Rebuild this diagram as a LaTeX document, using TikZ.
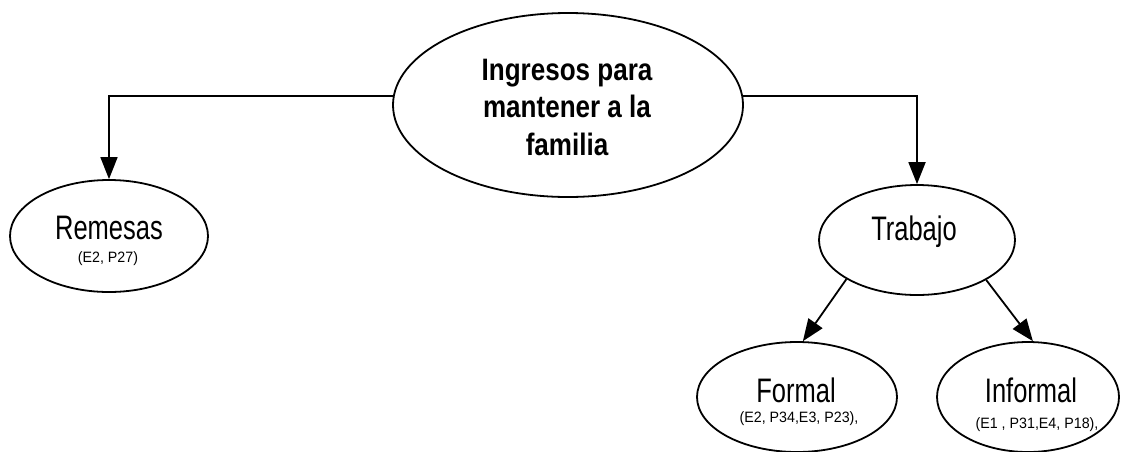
\documentclass[tikz,border=0pt]{standalone}
\usepackage{fontspec}
\newfontfamily\nar[FakeStretch=0.75]{Liberation Sans}
\newfontfamily\narb[FakeStretch=0.84]{Liberation Sans}
\newfontfamily\subf[FakeStretch=0.95]{Liberation Sans}
\usetikzlibrary{shapes.geometric,arrows.meta}
\begin{document}
\begin{tikzpicture}[x=1pt,y=-1pt,
 oval/.style={ellipse,draw,line width=1.8pt,inner sep=0pt},
 arr/.style={line width=1.8pt,-{Triangle[length=22pt,width=17pt]}},
 lbl/.style={font=\nar\fontsize{34}{40}\selectfont,anchor=base,inner sep=0pt},
 blbl/.style={font=\narb\bfseries\fontsize{31}{36}\selectfont,anchor=base,inner sep=0pt},
 sublbl/.style={font=\subf\fontsize{15}{18}\selectfont,anchor=base,inner sep=0pt}]
\useasboundingbox (0,0) rectangle (1121,451);
\node[oval,minimum width=350pt,minimum height=184pt] (main) at (568,105) {};
\node[oval,minimum width=198pt,minimum height=112pt] (rem) at (109,236) {};
\node[oval,minimum width=196pt,minimum height=110pt] (trab) at (917,240) {};
\node[oval,minimum width=200pt,minimum height=110pt] (formal) at (797,397) {};
\node[oval,minimum width=182pt,minimum height=110pt] (informal) at (1028,397) {};
\node[blbl] (t1) at (567,80) {Ingresos para};
\node[blbl] (t2) at (567,117) {mantener a la};
\node[blbl] (t3) at (567,155) {familia};
\node[lbl] (remt) at (109,239) {Remesas};
\node[sublbl] (rems) at (108,262) {(E2, P27)};
\node[lbl] (trabt) at (914,240) {Trabajo};
\node[lbl] (formt) at (796,402) {Formal};
\node[sublbl] (forms) at (799,422) {(E2, P34,E3, P23),};
\node[lbl] (inft) at (1031,402) {Informal};
\node[sublbl] (infs) at (1037,428) {(E1 , P31,E4, P18),};
\draw[arr] (main.177) -| (rem.north);
\draw[arr] (main.3) -| (trab.north);
\draw[arr] (trab.209) -- (formal.84);
\draw[arr] (trab.330) -- (informal.85);
\end{tikzpicture}
\end{document}
